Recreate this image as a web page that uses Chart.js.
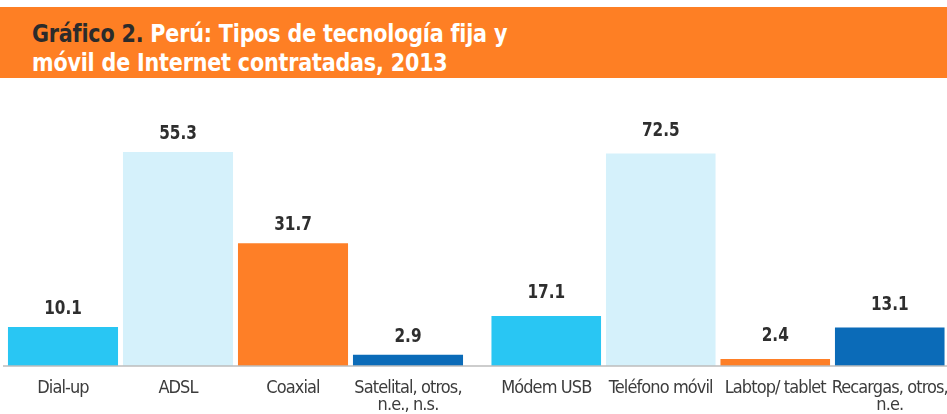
<!DOCTYPE html>
<html>
<head>
<meta charset="utf-8">
<script src="https://cdn.jsdelivr.net/npm/chart.js@4.4.1/dist/chart.umd.min.js"></script>
<style>
  html, body { margin: 0; padding: 0; background: #ffffff; }
  body { width: 947px; height: 414px; position: relative; overflow: hidden; }
  #title {
    position: absolute; left: 0; top: 7px; width: 947px; height: 71px;
    background: #fe7f24; box-sizing: border-box; padding: 12px 0 0 32px;
    font-family: "Liberation Sans Narrow", "DejaVu Sans Condensed", sans-serif;
    font-weight: bold; font-size: 25px; line-height: 29px; color: #ffffff;
    white-space: nowrap;
  }
  #title .txt { display: inline-block; transform: scaleX(0.92); transform-origin: 0 0; letter-spacing: -0.2px; }
  #title .num { color: #2b2b2b; }
  #left { position: absolute; left: 0; top: 90px; }
  #right { position: absolute; left: 478px; top: 90px; }
</style>
</head>
<body>
<div id="title"><span class="txt"><span class="num">Gráfico 2.</span> Perú: Tipos de tecnología fija y<br>móvil de Internet contratadas, 2013</span></div>
<canvas id="left" width="478" height="324"></canvas>
<canvas id="right" width="509" height="324"></canvas>
<script>
// ---- data ----
const fixedCategories = ['Dial-up', 'ADSL', 'Coaxial', ['Satelital, otros,', 'n.e., n.s.']];
const fixedValues = [10.1, 55.3, 31.7, 2.9];
const mobileCategories = ['Módem USB', 'Teléfono móvil', 'Labtop/ tablet', ['Recargas, otros,', 'n.e.']];
const mobileValues = [17.1, 72.5, 2.4, 13.1];
const barColors = ['#29c6f3', '#d5f1fb', '#fe7f27', '#0b6bb8'];
const fixedMax = 71.3;
const mobileMax = 94.2;

const FONT = '"Liberation Sans Narrow", "DejaVu Sans Condensed", sans-serif';

const tightText = {
  id: 'tightText',
  beforeDraw(chart) { chart.ctx.letterSpacing = '-0.9px'; }
};

const valueLabels = {
  id: 'valueLabels',
  afterDatasetsDraw(chart, args, opts) {
    const ctx = chart.ctx;
    const meta = chart.getDatasetMeta(0);
    meta.data.forEach((bar, i) => {
      const v = chart.data.datasets[0].data[i];
      ctx.save();
      ctx.letterSpacing = '0px';
      ctx.font = 'bold 20px ' + FONT;
      ctx.fillStyle = '#2e2e2e';
      ctx.textAlign = 'center';
      ctx.textBaseline = 'alphabetic';
      ctx.translate(bar.x, bar.y - opts.gap);
      ctx.scale(0.85, 1);
      ctx.fillText(v.toFixed(1), 0, 0);
      ctx.restore();
    });
  }
};

const baseLine = {
  id: 'baseLine',
  afterDatasetsDraw(chart, args, opts) {
    const ctx = chart.ctx;
    const y = chart.chartArea.bottom;
    ctx.save();
    ctx.strokeStyle = '#bcbcbc';
    ctx.lineWidth = 1.5;
    ctx.beginPath();
    ctx.moveTo(opts.from, y);
    ctx.lineTo(chart.width, y);
    ctx.stroke();
    ctx.restore();
  }
};

function makeChart(id, labels, values, yMax, padL, padR, lineFrom, gap) {
  return new Chart(document.getElementById(id), {
    type: 'bar',
    data: {
      labels: labels,
      datasets: [{ data: values, backgroundColor: barColors, borderWidth: 0,
                   categoryPercentage: 1, barPercentage: 0.957 }]
    },
    options: {
      responsive: false,
      animation: false,
      layout: { autoPadding: false, padding: { left: padL, right: padR, top: 0, bottom: 0 } },
      plugins: { legend: { display: false }, tooltip: { enabled: false },
                 baseLine: { from: lineFrom }, valueLabels: { gap: gap } },
      scales: {
        x: {
          grid: { display: false },
          border: { display: false },
          ticks: { color: '#3c3c3c', padding: 6, maxRotation: 0, autoSkip: false,
                   font: { family: FONT, size: 18, lineHeight: '17px' } },
          afterFit(scale) { scale.height = 48; }
        },
        y: { display: false, min: 0, max: yMax }
      }
    },
    plugins: [tightText, valueLabels, baseLine]
  });
}

makeChart('left', fixedCategories, fixedValues, fixedMax, 5.5, 12.5, 3, 13);
makeChart('right', mobileCategories, mobileValues, mobileMax, 11, 40, 0, 18);
</script>
</body>
</html>
